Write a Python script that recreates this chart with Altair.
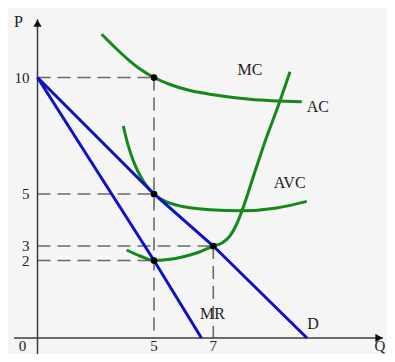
import altair as alt
import pandas as pd

# ---- data (economic units) ----
Q_ac = [2.755, 3.283, 3.841, 4.399, 5.0, 5.54, 6.214, 7.054, 8.175, 9.831]
P_ac = [11.854, 11.33, 10.815, 10.365, 10.0, 9.70, 9.442, 9.249, 9.064, 8.961]
Q_avc = [3.682, 3.884, 4.112, 4.313, 4.541, 4.764, 5.0, 5.202, 5.438, 5.765, 6.214, 6.889, 7.909, 9.030, 9.991]
P_avc = [7.918, 7.112, 6.429, 5.966, 5.558, 5.245, 5.0, 4.827, 4.692, 4.573, 4.469, 4.392, 4.354, 4.462, 4.715]
Q_mc = [3.828, 4.399, 5.0, 5.472, 5.988, 6.484, 7.0, 7.279, 7.535, 7.727, 7.909, 8.281, 8.710, 9.030, 9.456]
P_mc = [2.724, 2.310, 2.0, 2.069, 2.262, 2.552, 3.0, 3.115, 3.385, 3.788, 4.319, 5.742, 7.459, 8.605, 10.249]
Q_d = [0, 5, 7, 10]
P_d = [10, 5, 3, 0]
Q_mr = [0, 5, 6.6]
P_mr = [10, 2, 0]
Q_pts = [5, 5, 5, 7]
P_pts = [10, 5, 2, 3]
x_ticks = [5, 7]
y_ticks = [10, 5, 3, 2]
Q_extent = [-1, 12.5]
P_extent = [-1, 12.5]

FONT = "Liberation Serif"
GREEN = "#15881a"
BLUE = "#1010c4"
GUIDE = "#6a6a6a"
AXIS = "#3c3c3c"

# schematic (piecewise) scales, as in the textbook drawing
xs = alt.Scale(domain=[Q_extent[0], 0, 5, 7, 10, Q_extent[1]],
               range=[6, 29.5, 146, 205.3, 299, 375], nice=False, zero=False)
ys = alt.Scale(domain=[P_extent[0], 0, 2, 3, 5, 10, P_extent[1]],
               range=[352, 330, 252.5, 238, 186, 69.5, 11.25], nice=False, zero=False)
X = lambda f="Q": alt.X(f"{f}:Q", scale=xs, axis=None)
Y = lambda f="P": alt.Y(f"{f}:Q", scale=ys, axis=None)


def curve(name, qs, ps):
    return pd.DataFrame({"curve": name, "Q": qs, "P": ps, "i": range(len(qs))})


green_df = pd.concat([curve("AC", Q_ac, P_ac), curve("AVC", Q_avc, P_avc),
                      curve("MC", Q_mc, P_mc)])
blue_df = pd.concat([curve("D", Q_d, P_d), curve("MR", Q_mr, P_mr)])
pts_df = pd.DataFrame({"Q": Q_pts, "P": P_pts})

# dashed guides
h_df = pd.DataFrame({"Q": 0, "Q2": Q_pts, "P": P_pts})
v_df = pts_df.groupby("Q", as_index=False)["P"].max().assign(P2=0)

guides_h = alt.Chart(h_df).mark_rule(color=GUIDE, strokeWidth=1.6, strokeDash=[13, 7]).encode(
    x=X(), x2="Q2", y=Y())
guides_v = alt.Chart(v_df).mark_rule(color=GUIDE, strokeWidth=1.6, strokeDash=[13, 7]).encode(
    x=X(), y=Y(), y2="P2")

# axes
xaxis = alt.Chart(pd.DataFrame({"Q": [Q_extent[0]], "Q2": [Q_extent[1]], "P": [0]})).mark_rule(
    color=AXIS, strokeWidth=1.5).encode(x=X(), x2="Q2", y=Y())
yaxis = alt.Chart(pd.DataFrame({"Q": [0], "P": [P_extent[0]], "P2": [P_extent[1]]})).mark_rule(
    color=AXIS, strokeWidth=1.5).encode(x=X(), y=Y(), y2="P2")
arrow_x = alt.Chart(pd.DataFrame({"Q": [Q_extent[1]], "P": [0]})).mark_point(
    shape="triangle-right", filled=True, color="#111", size=70, opacity=1, xOffset=-4).encode(x=X(), y=Y())
arrow_y = alt.Chart(pd.DataFrame({"Q": [0], "P": [P_extent[1]]})).mark_point(
    shape="triangle-up", filled=True, color="#111", size=70, opacity=1, yOffset=4).encode(x=X(), y=Y())

green = alt.Chart(green_df).mark_line(color=GREEN, strokeWidth=3, interpolate="monotone").encode(
    x=X(), y=Y(), detail="curve:N", order="i:Q")
blue = alt.Chart(blue_df).mark_line(color=BLUE, strokeWidth=3).encode(
    x=X(), y=Y(), detail="curve:N", order="i:Q")
dots = alt.Chart(pts_df).mark_circle(color="black", size=45, opacity=1).encode(x=X(), y=Y())

# tick labels
txt = dict(font=FONT, fontSize=16, color="#222")
tick_txt = dict(font=FONT, fontSize=15, color="#222")
xt = alt.Chart(pd.DataFrame({"Q": x_ticks, "P": 0, "t": [str(v) for v in x_ticks]})).mark_text(
    dy=8, align="center", baseline="middle", **tick_txt).encode(x=X(), y=Y(), text="t:N")
yt = alt.Chart(pd.DataFrame({"Q": 0, "P": y_ticks, "t": [str(v) for v in y_ticks]})).mark_text(
    dx=-8, align="right", baseline="middle", **tick_txt).encode(x=X(), y=Y(), text="t:N")
zero = alt.Chart(pd.DataFrame({"Q": [0], "P": [0], "t": ["0"]})).mark_text(
    dx=-15, dy=8, align="center", baseline="middle", **tick_txt).encode(x=X(), y=Y(), text="t:N")
plab = alt.Chart(pd.DataFrame({"Q": [0], "P": [P_extent[1]], "t": ["P"]})).mark_text(
    dx=-19, dy=3, align="center", baseline="middle", **txt).encode(x=X(), y=Y(), text="t:N")
qlab = alt.Chart(pd.DataFrame({"Q": [Q_extent[1]], "P": [0], "t": ["Q"]})).mark_text(
    dx=-3, dy=8, align="center", baseline="middle", **tick_txt).encode(x=X(), y=Y(), text="t:N")


def end_label(df, name, dx, dy, align="center"):
    last = df[df["curve"] == name].iloc[[-1]].assign(t=name)
    return alt.Chart(last).mark_text(dx=dx, dy=dy, align=align, baseline="middle", **txt).encode(
        x=X(), y=Y(), text="t:N")


labels = [
    end_label(green_df, "AC", 5, 5, "left"),
    end_label(green_df, "MC", -40, -2),
    end_label(green_df, "AVC", -17, -18),
    end_label(blue_df, "MR", 11, -24),
    end_label(blue_df, "D", 6, -14),
]

chart = alt.layer(
    guides_h, guides_v, xaxis, yaxis, arrow_x, arrow_y, green, blue, dots,
    xt, yt, zero, plab, qlab, *labels
).properties(
    width=379, height=346, background="#f5f5f5", padding=0,
    autosize=alt.AutoSizeParams(type="none"),
).configure_view(stroke=None)

chart.save("out.html", embed_options={"renderer": "svg", "actions": False})
